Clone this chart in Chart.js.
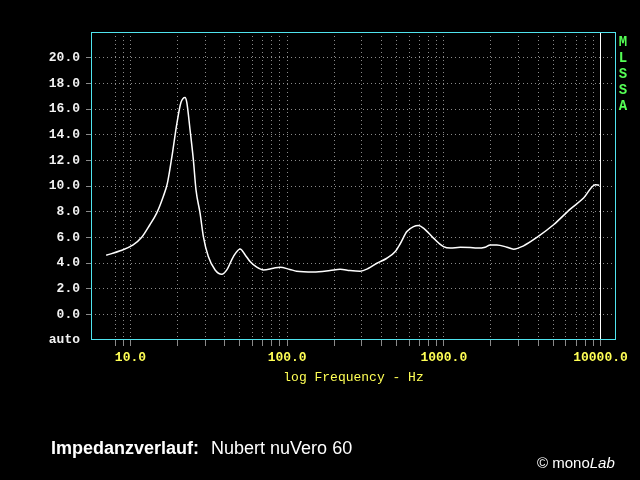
<!DOCTYPE html>
<html>
<head>
<meta charset="utf-8">
<title>Impedanzverlauf Nubert nuVero 60</title>
<script src="https://cdn.jsdelivr.net/npm/chart.js@4/dist/chart.umd.min.js"></script>
<style>
  html, body { margin: 0; padding: 0; background: #000; }
  #wrap { position: relative; width: 640px; height: 480px; overflow: hidden; background: #000; }
  #chart { position: absolute; left: 0; top: 0; }
  .mlssa {
    position: absolute; left: 616px; top: 34px; width: 14px;
    color: #55ff55; font: bold 14px 'Liberation Mono', monospace;
    line-height: 16px; text-align: center;
  }
  .caption {
    position: absolute; left: 51px; top: 438px; white-space: nowrap;
    color: #fff; font: 18px 'Liberation Sans', Arial, sans-serif;
  }
  .caption b { margin-right: 12px; }
  .copy {
    position: absolute; left: 537px; top: 454px; white-space: nowrap;
    color: #fff; font: 15px 'Liberation Sans', Arial, sans-serif;
  }
</style>
</head>
<body>
<div id="wrap">
  <canvas id="chart" width="640" height="480"></canvas>
  <div class="mlssa">M<br>L<br>S<br>S<br>A</div>
  <div class="caption"><b>Impedanzverlauf:</b>Nubert nuVero 60</div>
  <div class="copy">&copy; mono<i>Lab</i></div>
</div>
<script>
// impedance curve (Hz / Ohm)
const freq = [7, 8.6, 10.4, 11.8, 13.3, 14.7, 16.2, 17.2, 18.4, 19.8, 21.0, 22.3, 22.9, 24.0,
  25.2, 26.2, 27.8, 29.2, 31.4, 34.7, 38.3, 41.2, 45.4, 50.1, 54, 58, 64, 70.6, 81.7, 90,
  104, 115, 147, 188, 218, 252, 292, 331, 374, 433, 490, 527, 581, 641, 689, 742, 859,
  995, 1100, 1273, 1475, 1627, 1837, 1978, 2183, 2530, 2787, 3228, 3930, 5015, 6410,
  7800, 9270, 9820];
const impedance = [4.6, 4.95, 5.41, 6.0, 6.98, 7.89, 9.19, 10.2, 12.3, 14.9, 16.5, 16.9, 16.5, 14.4,
  12.05, 9.7, 7.9, 6.06, 4.5, 3.46, 3.12, 3.46, 4.5, 5.1, 4.63, 4.11, 3.67, 3.46, 3.59, 3.67,
  3.5, 3.36, 3.3, 3.41, 3.51, 3.41, 3.36, 3.59, 3.98, 4.37, 4.9, 5.5, 6.45, 6.84, 6.92, 6.72, 5.94,
  5.28, 5.16, 5.23, 5.2, 5.16, 5.23, 5.41, 5.41, 5.23, 5.08, 5.34, 6.0, 6.98, 8.2,
  9.06, 10.1, 10.05];

// axis ticks
const freqTicks = [8, 9, 10, 20, 30, 40, 50, 60, 70, 80, 90, 100, 200, 300, 400, 500, 600, 700,
  800, 900, 1000, 2000, 3000, 4000, 5000, 6000, 7000, 8000, 9000, 10000];
const freqLabels = [10, 100, 1000, 10000];
const ohmTicks = [-2, 0, 2, 4, 6, 8, 10, 12, 14, 16, 18, 20];
const freqRange = [5.6, 12560];
const ohmRange = [-2, 22];
const endFreq = 10000;

const frame = {
  id: 'frame',
  beforeDatasetsDraw(chart) {
    const { ctx, chartArea: a, scales } = chart;
    const x = Math.round(scales.x.getPixelForValue(endFreq)) + 0.5;
    ctx.save();
    ctx.strokeStyle = '#ffffff';
    ctx.lineWidth = 1;
    ctx.beginPath();
    ctx.moveTo(x, a.top);
    ctx.lineTo(x, a.bottom);
    ctx.stroke();
    ctx.restore();
  },
  afterDatasetsDraw(chart) {
    const { ctx, chartArea: a } = chart;
    ctx.save();
    ctx.strokeStyle = '#50e4ee';
    ctx.lineWidth = 1;
    ctx.strokeRect(Math.round(a.left) + 0.5, Math.round(a.top) + 0.5,
      Math.round(a.width) - 1, Math.round(a.height) - 1);
    ctx.restore();
  },
};

const data = {
  datasets: [{
    data: freq.map((f, i) => ({ x: f, y: impedance[i] })),
    borderColor: '#ffffff',
    borderWidth: 1.5,
    pointRadius: 0,
    cubicInterpolationMode: 'monotone',
  }],
};

const config = {
  type: 'line',
  data: data,
  plugins: [frame],
  options: {
    responsive: false,
    animation: false,
    devicePixelRatio: 1,
    layout: { padding: { left: 0, right: 24, top: 32, bottom: 90 } },
    plugins: { legend: { display: false }, tooltip: { enabled: false } },
    scales: {
      x: {
        type: 'logarithmic',
        min: freqRange[0],
        max: freqRange[1],
        afterBuildTicks: (scale) => { scale.ticks = freqTicks.map((v) => ({ value: v })); },
        afterFit: (scale) => { scale.height = 50; },
        border: { display: false, dash: [1, 3] },
        grid: {
          color: '#8a8a8a',
          tickColor: '#8a8a8a',
          tickLength: 6,
        },
        ticks: {
          autoSkip: false,
          maxRotation: 0,
          padding: 4,
          color: '#ffff55',
          font: { family: 'Liberation Mono', size: 13, weight: 'bold' },
          callback: (v) => (freqLabels.includes(v) ? v.toFixed(1) : ''),
        },
        title: {
          display: true,
          text: 'log Frequency - Hz',
          color: '#ffff55',
          font: { family: 'Liberation Mono', size: 13 },
          padding: { top: 2, bottom: 5 },
        },
      },
      y: {
        min: ohmRange[0],
        max: ohmRange[1],
        afterBuildTicks: (scale) => { scale.ticks = ohmTicks.map((v) => ({ value: v })); },
        afterFit: (scale) => { scale.width = 91; },
        border: { display: false, dash: [1, 3] },
        grid: {
          color: (c) => (c.tick && c.tick.value === -2 ? 'transparent' : '#8a8a8a'),
          tickColor: (c) => (c.tick && c.tick.value === -2 ? 'transparent' : '#8a8a8a'),
          tickLength: 5,
        },
        ticks: {
          padding: 6,
          color: '#f2f2f2',
          font: { family: 'Liberation Mono', size: 13, weight: 'bold' },
          callback: (v) => (v === -2 ? 'auto' : v.toFixed(1)),
        },
      },
    },
  },
};

new Chart(document.getElementById('chart'), config);
</script>
</body>
</html>
